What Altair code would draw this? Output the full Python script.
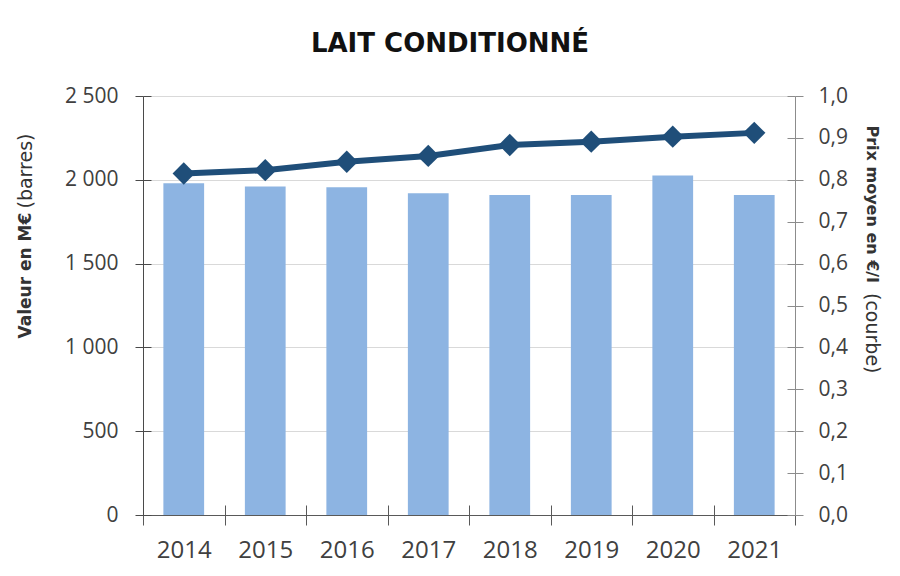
import altair as alt
import pandas as pd

# ---- data ----
annees = ["2014", "2015", "2016", "2017", "2018", "2019", "2020", "2021"]
valeur_meur = [1980, 1960, 1955, 1920, 1910, 1910, 2025, 1910]
prix_eur_l = [0.815, 0.823, 0.843, 0.857, 0.883, 0.891, 0.903, 0.912]
y_left_ticks = [0, 500, 1000, 1500, 2000, 2500]
y_right_ticks = [0, 0.1, 0.2, 0.3, 0.4, 0.5, 0.6, 0.7, 0.8, 0.9, 1.0]

df = pd.DataFrame({"annee": annees, "valeur": valeur_meur, "prix": prix_eur_l})

FONT = "Open Sans"
TFONT = "DejaVu Sans"
W, H = 652, 419
BAR = "#8db4e2"
LINE = "#1f4e79"
LEFTC = "#4a4a4a"
BOTC = "#595959"
RIGHTC = "#8c8c8c"
TXT = "#404040"

x_scale = alt.Scale(paddingInner=0, paddingOuter=0)
yl_scale = alt.Scale(domain=[0, 2500])
yr_scale = alt.Scale(domain=[0, 1])

lab_left = "replace(format(datum.value, ','), ',', ' ')"
lab_right = "replace(format(datum.value, '.1f'), '.', ',')"

base = alt.Chart(df)

# bars with main left axis and bottom axis
bars = base.mark_bar(width=alt.RelativeBandSize(0.5), color=BAR).encode(
    x=alt.X("annee:O", scale=x_scale, axis=alt.Axis(
        orient="bottom", title=None, tickBand="extent", tickSize=10,
        domainColor=BOTC, tickColor=BOTC,
        labelAngle=0, labelFontSize=24, labelPadding=13, grid=False)),
    y=alt.Y("valeur:Q", scale=yl_scale, axis=alt.Axis(
        orient="left", values=y_left_ticks, labelExpr=lab_left, tickSize=8,
        domainColor=LEFTC, tickColor=LEFTC,
        labelPadding=17, labelFontSize=21, grid=True, gridColor="#d9d9d9",
        title="Valeur en M€", titleFontWeight="bold", titleFontSize=17,
        titleAngle=270, titleAlign="left", titleBaseline="middle",
        titleX=-118, titleY=242)),
)

# invisible bars carrying the inner half of the crossing ticks
bars_inner = base.mark_bar(width=alt.RelativeBandSize(0.5), opacity=0).encode(
    x=alt.X("annee:O", scale=x_scale, axis=alt.Axis(
        orient="bottom", offset=-10, title=None, tickBand="extent", tickSize=10,
        tickColor=BOTC, labels=False, domain=False, grid=False)),
    y=alt.Y("valeur:Q", scale=yl_scale, axis=alt.Axis(
        orient="left", offset=-8, values=y_left_ticks, tickSize=8, labels=False,
        tickColor=LEFTC, domain=False, grid=False,
        title="(barres)", titleFontWeight="normal", titleFontSize=19,
        titleAngle=270, titleAlign="right", titleBaseline="middle",
        titleX=-126, titleY=37)),
)

line = base.mark_line(
    color=LINE, strokeWidth=6,
    point=alt.OverlayMarkDef(filled=True, shape="diamond", size=500, color=LINE, opacity=1),
).encode(
    x=alt.X("annee:O", scale=x_scale, axis=None),
    y=alt.Y("prix:Q", scale=yr_scale, axis=alt.Axis(
        orient="right", values=y_right_ticks, labelExpr=lab_right, tickSize=8,
        domainColor=RIGHTC, tickColor=RIGHTC,
        labelPadding=15, labelFontSize=21, grid=False,
        title="Prix moyen en €/l", titleFontWeight="bold", titleFontSize=16,
        titleAngle=90, titleAlign="left", titleBaseline="middle",
        titleX=76, titleY=29)),
)

line_inner = base.mark_line(opacity=0).encode(
    x=alt.X("annee:O", scale=x_scale, axis=None),
    y=alt.Y("prix:Q", scale=yr_scale, axis=alt.Axis(
        orient="right", offset=-8, values=y_right_ticks, tickSize=8, labels=False,
        tickColor=RIGHTC, domain=False, grid=False,
        title="(courbe)", titleFontWeight="normal", titleFontSize=19,
        titleAngle=90, titleAlign="right", titleBaseline="middle",
        titleX=84, titleY=277)),
)

chart = alt.layer(bars, bars_inner, line, line_inner).resolve_scale(
    y="independent"
).resolve_axis(
    x="independent", y="independent"
).properties(
    width=W, height=H,
    autosize=alt.AutoSizeParams(type="none"),
    padding={"left": 135, "top": 88, "right": 97, "bottom": 53},
    title=alt.TitleParams(
        "LAIT CONDITIONNÉ", font=TFONT, fontSize=26, fontWeight="bold",
        color="#111111", anchor="middle", dx=-19, offset=28),
).configure_view(stroke=None).configure_axis(
    domainWidth=1, tickWidth=1,
    labelFont=FONT, labelColor=TXT, titleFont=TFONT,
    titleColor="#333333",
)

chart.save("out.html", embed_options={"renderer": "svg", "actions": False})
